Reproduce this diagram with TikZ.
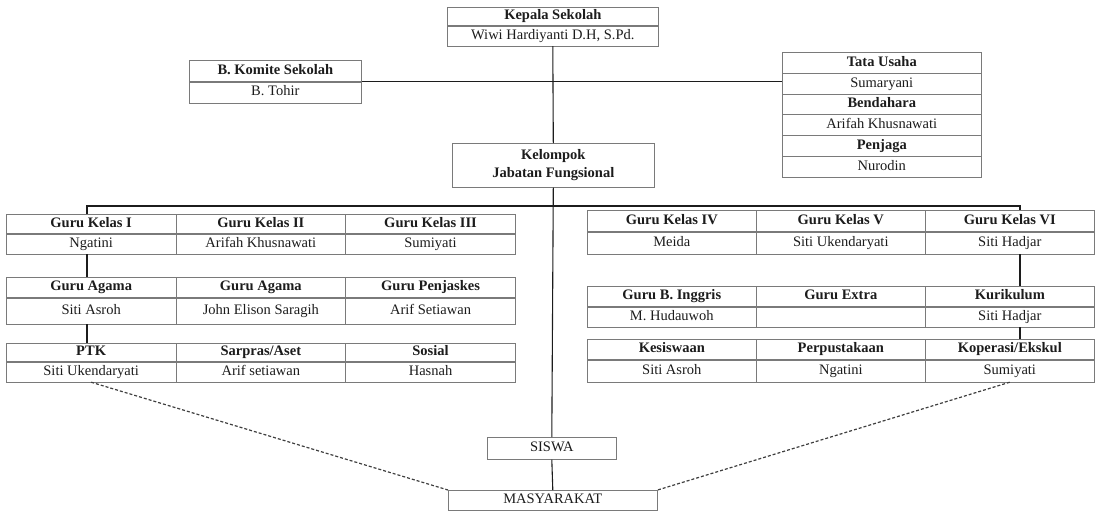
\documentclass[tikz,border=0pt]{standalone}
\usepackage{fontspec}
\setmainfont{Liberation Serif}
\usetikzlibrary{positioning}
\definecolor{ink}{HTML}{1C1C1C}
\definecolor{rule}{HTML}{7A7A7A}

\begin{document}
\begin{tikzpicture}[x=1pt,y=-1pt,
    frame/.style={draw=rule,line width=0.6pt,inner sep=0pt,anchor=north west,text=ink,
      font=\fontsize{14.5}{17}\selectfont},
    cell/.style={frame,text height=10pt,text depth=3pt},
    head/.style={cell,font=\fontsize{14.5}{17}\selectfont\bfseries},
    link/.style={draw=ink,line width=1.1pt},
    tie/.style={draw=ink!85,line width=1.2pt,densely dashed}]
        \useasboundingbox (0,0) rectangle (1100,512);
        % top
        \node[head,minimum width=211pt,minimum height=18pt] (kph) at (447,7) {Kepala Sekolah};
        \node[cell,minimum width=211pt,minimum height=20pt,below=0pt of kph] (kpn) {Wiwi Hardiyanti D.H, S.Pd.};
        \node[head,minimum width=172pt,minimum height=21pt] (kmh) at (189,60) {B. Komite Sekolah};
        \node[cell,minimum width=172pt,minimum height=21pt,below=0pt of kmh] (kmn) {B. Tohir};
        \foreach \k/\t/\s in {0/Tata Usaha/head,1/Sumaryani/cell,2/Bendahara/head,
            3/Arifah Khusnawati/cell,4/Penjaga/head,5/Nurodin/cell}{
          \node[\s,minimum width=199pt,minimum height=20.8pt] (tu\k) at (782,52+\k*20.83) {\t};}
        \node[frame,font=\fontsize{14.5}{18}\selectfont\bfseries,minimum width=202pt,minimum height=44pt,align=center] (kel)
          at (452,143) {Kelompok\\Jabatan Fungsional};
        % left block
        \foreach \i/\t/\n in {0/Guru Kelas I/Ngatini,1/Guru Kelas II/Arifah Khusnawati,2/Guru Kelas III/Sumiyati}{
          \node[head,minimum width=169.7pt,minimum height=19pt] (la\i) at (6+\i*169.7,214) {\t};
          \node[cell,minimum width=169.7pt,minimum height=20pt,below=0pt of la\i] (lan\i) {\n};}
        \foreach \i/\t/\n in {0/Guru Agama/Siti Asroh,1/Guru Agama/John Elison Saragih,2/Guru Penjaskes/Arif Setiawan}{
          \node[head,minimum width=169.7pt,minimum height=20pt] (lb\i) at (6+\i*169.7,277) {\t};
          \node[cell,minimum width=169.7pt,minimum height=26pt,below=0pt of lb\i] (lbn\i) {\n};}
        \foreach \i/\t/\n in {0/PTK/Siti Ukendaryati,1/{Sarpras/Aset}/Arif setiawan,2/Sosial/Hasnah}{
          \node[head,minimum width=169.7pt,minimum height=18pt] (lc\i) at (6+\i*169.7,343) {\t};
          \node[cell,minimum width=169.7pt,minimum height=20pt,below=0pt of lc\i] (lcn\i) {\n};}
        % right block
        \foreach \i/\t/\n in {0/Guru Kelas IV/Meida,1/Guru Kelas V/Siti Ukendaryati,2/Guru Kelas VI/Siti Hadjar}{
          \node[head,minimum width=169pt,minimum height=21pt] (ra\i) at (587+\i*169,210) {\t};
          \node[cell,minimum width=169pt,minimum height=22pt,below=0pt of ra\i] (ran\i) {\n};}
        \foreach \i/\t/\n in {0/Guru B. Inggris/M. Hudauwoh,1/Guru Extra/{},2/Kurikulum/Siti Hadjar}{
          \node[head,minimum width=169pt,minimum height=20pt] (rb\i) at (587+\i*169,286) {\t};
          \node[cell,minimum width=169pt,minimum height=20pt,below=0pt of rb\i] (rbn\i) {\n};}
        \foreach \i/\t/\n in {0/Kesiswaan/Siti Asroh,1/Perpustakaan/Ngatini,2/{Koperasi/Ekskul}/Sumiyati}{
          \node[head,minimum width=169pt,minimum height=20pt] (rc\i) at (587+\i*169,339) {\t};
          \node[cell,minimum width=169pt,minimum height=22pt,below=0pt of rc\i] (rcn\i) {\n};}
        % bottom
        \node[cell,minimum width=129pt,minimum height=22pt] (siswa) at (487,437) {SISWA};
        \node[cell,minimum width=209pt,minimum height=20pt] (masy) at (448,490) {MASYARAKAT};
        % lines
        \draw[link] (kpn.south) -- (kel.north);
        \draw[link] (kel.south) -- (siswa.north);
        \draw[link] (siswa.south) -- (masy.north);
        \draw[link] (kmh.south east) -- (kmh.south east -| tu0.west);
        \coordinate (ljoin) at (87,206);
        \coordinate (rjoin) at (1020,206);
        \draw[link] (ljoin |- la0.north) -- (ljoin) -- (rjoin) -- (rjoin |- ra2.north);
        \draw[link] (ljoin |- lan0.south) -- (ljoin |- lb0.north);
        \draw[link] (ljoin |- lbn0.south) -- (ljoin |- lc0.north);
        \draw[link] (rjoin |- ran2.south) -- (rjoin |- rb2.north);
        \draw[link] (rjoin |- rbn2.south) -- (rjoin |- rc2.north);
        \draw[tie] (lcn0.south) -- (masy.north west);
        \draw[tie] (rcn2.south) -- (masy.north east);
      \end{tikzpicture}
\end{document}
